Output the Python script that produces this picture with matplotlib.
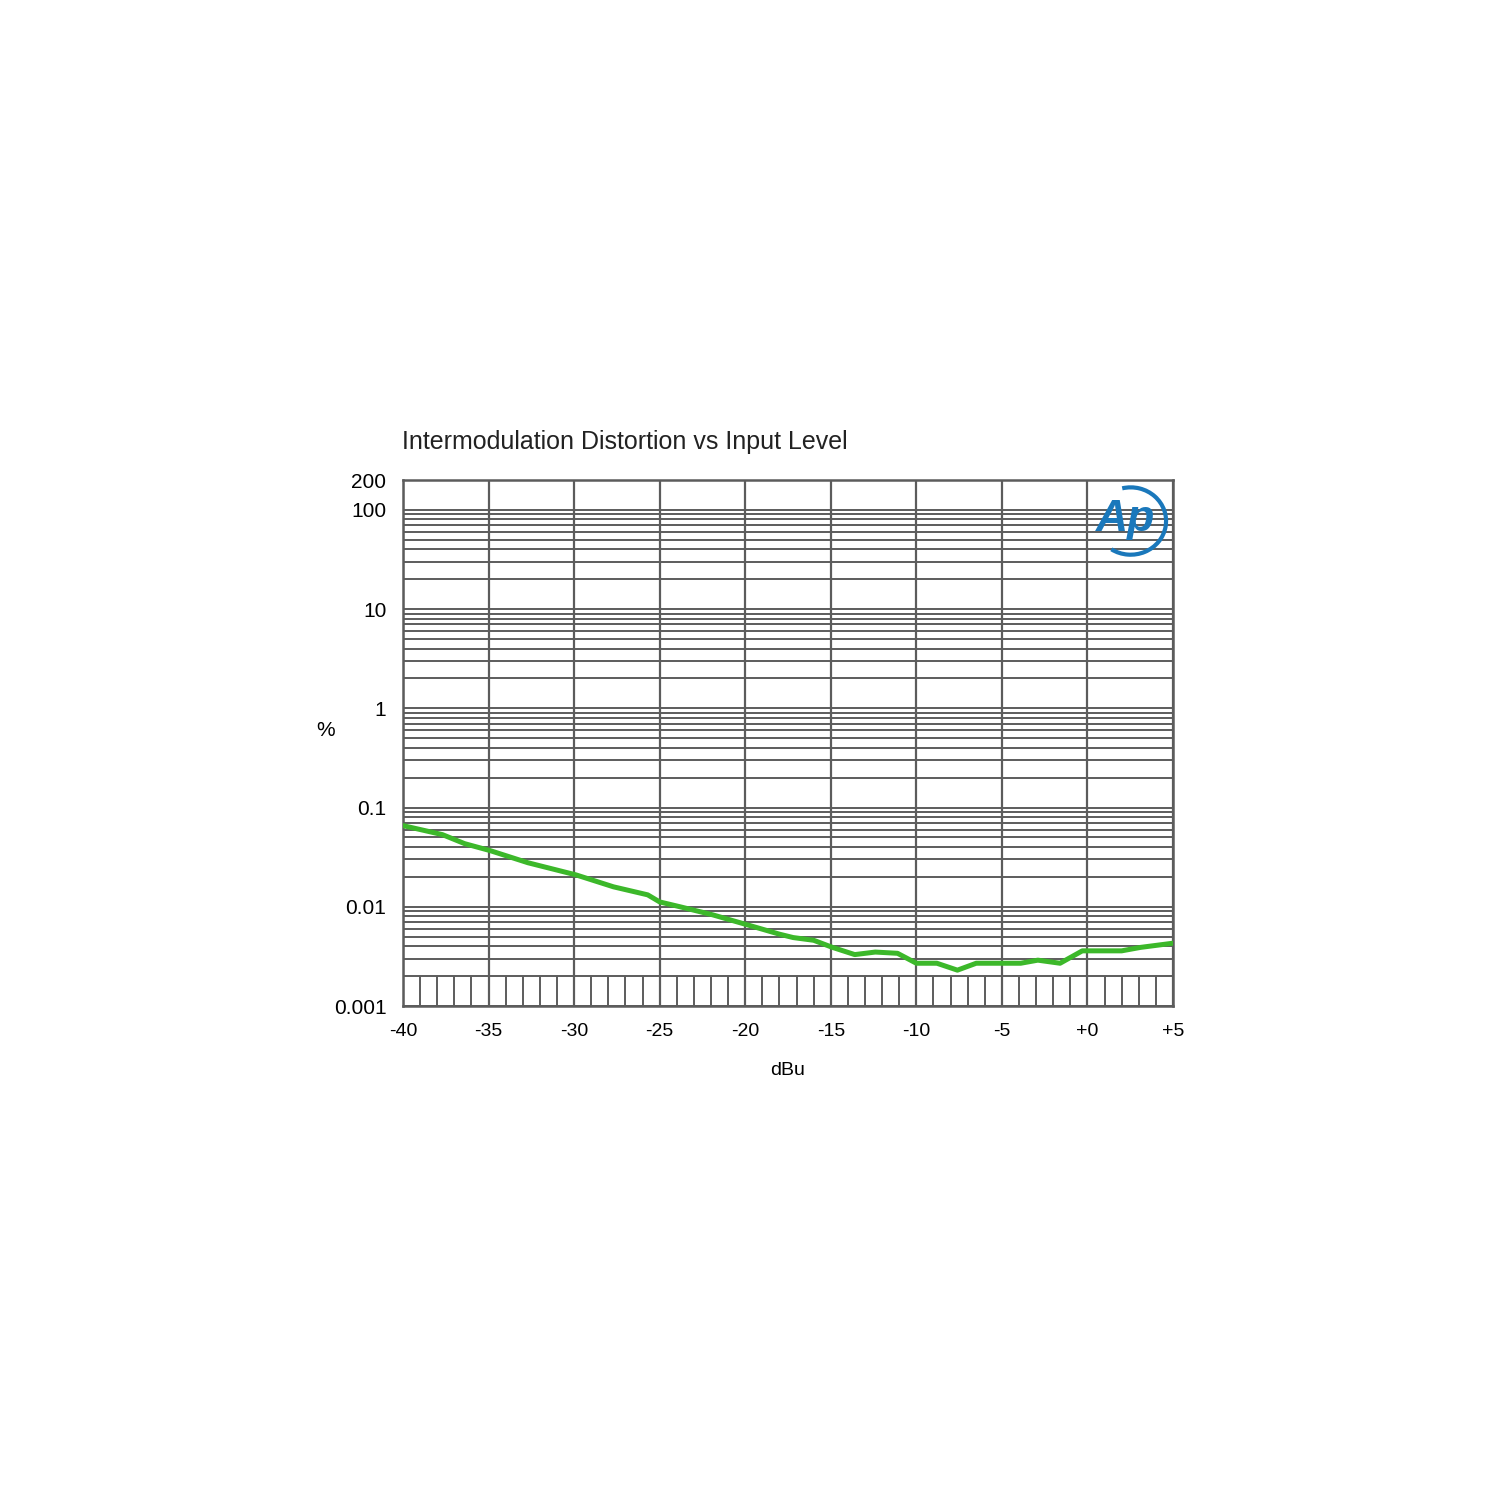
#!/usr/bin/env python3

import matplotlib
matplotlib.use("Agg")
import matplotlib.pyplot as plt
from matplotlib.patches import Arc

# curve (dBu, %)
level_dbu = [-40, -37.7, -36.4, -34.9, -32.7, -29.9, -27.7, -25.7, -25, -23.8,
             -21.9, -19.9, -18, -17.2, -16, -14.9, -13.6, -12.4, -11.1, -10,
             -8.8, -7.6, -6.5, -4.9, -3.9, -2.9, -1.6, -0.3, 0.7, 2, 3.1, 5]
imd_pct = [0.0658, 0.0534, 0.0433, 0.0368, 0.0278, 0.0210, 0.0159, 0.0132, 0.0112, 0.0100,
           0.0083, 0.0066, 0.0053, 0.0049, 0.0046, 0.0039, 0.0033, 0.0035, 0.0034, 0.0027,
           0.0027, 0.0023, 0.0027, 0.0027, 0.0027, 0.0029, 0.0027, 0.0036, 0.0036, 0.0036,
           0.0039, 0.0043]

xticks = [-40, -35, -30, -25, -20, -15, -10, -5, 0, 5]
xtick_labels = ["-40", "-35", "-30", "-25", "-20", "-15", "-10", "-5", "+0", "+5"]
yticks = [0.001, 0.01, 0.1, 1, 10, 100, 200]
ytick_labels = ["0.001", "0.01", "0.1", "1", "10", "100", "200"]

GRID = "#5c5c5c"
GREEN = "#3cb82a"
BLUE = "#1a78bb"

plt.rcParams["font.family"] = ["Liberation Sans", "DejaVu Sans"]

fig = plt.figure(figsize=(15, 15), dpi=100)
ax = fig.add_axes([0.2687, 0.3293, 0.5133, 0.3507])

ax.set_yscale("log")
ax.set_xlim(-40, 5)
ax.set_ylim(0.001, 200)

ax.set_xticks(xticks)
ax.set_xticklabels(xtick_labels)
ax.set_yticks(yticks)
ax.set_yticklabels(ytick_labels)

minor = [m * 10.0 ** e for e in range(-3, 2) for m in range(2, 10)]
ax.set_yticks(minor, minor=True)
ax.set_xticks([], minor=True)
ax.yaxis.set_minor_formatter(plt.NullFormatter())

ax.tick_params(axis="both", which="both", length=0)
ax.tick_params(axis="y", labelsize=15, pad=12)
ax.tick_params(axis="x", labelsize=14, pad=12)

ax.grid(True, which="major", axis="x", color=GRID, linewidth=1.6)
ax.grid(True, which="both", axis="y", color=GRID, linewidth=1.4)

# short verticals at every dB in the bottom band
small = [v for v in range(-39, 5) if v % 5 != 0]
ax.vlines(small, 0.001, 0.002, color=GRID, linewidth=1.4)

for s in ax.spines.values():
    s.set_color(GRID)
    s.set_linewidth(1.8)

ax.plot(level_dbu, imd_pct, color=GREEN, linewidth=3.6, solid_joinstyle="round", zorder=5)

ax.set_xlabel("dBu", fontsize=14, labelpad=16)
fig.text(0.217, 0.513, "%", fontsize=15, ha="center", va="center")
fig.text(0.268, 0.705, "Intermodulation Distortion vs Input Level", fontsize=18,
         ha="left", va="center", color="#222222")

# AP logo
ax.text(0.938, 0.925, "Ap", transform=ax.transAxes, fontsize=32, fontweight="bold",
        fontstyle="italic", color=BLUE, ha="center", va="center", zorder=6)
ax.add_patch(Arc((0.945, 0.922), 0.092, 0.128, theta1=-115, theta2=100,
                 transform=ax.transAxes, color=BLUE, linewidth=3, zorder=6))

fig.savefig("out.png", dpi=100, facecolor="white")
